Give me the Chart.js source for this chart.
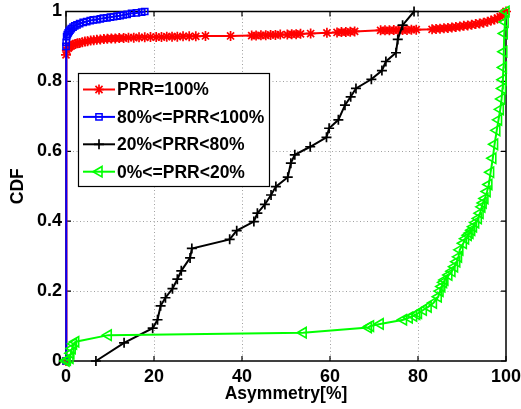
<!DOCTYPE html>
<html>
<head>
<meta charset="utf-8">
<script src="https://cdn.jsdelivr.net/npm/chart.js@4"></script>
<style>
  html, body { margin: 0; padding: 0; background: #fff; }
  #c { display: block; }
</style>
</head>
<body>
<canvas id="c" width="521" height="409"></canvas>
<script>
// Asymmetry CDF per PRR class
const xTickLabels = ['0', '20', '40', '60', '80', '100'];
const yTickLabels = ['0', '0.2', '0.4', '0.6', '0.8', '1'];
const seriesNames = ['PRR=100%', '80%<=PRR<100%', '20%<PRR<80%', '0%<=PRR<20%'];

const redX = [0, 0, 0.2, 0.5, 0.8, 1.2, 1.6, 2.1, 2.6, 3.1, 3.7, 4.3, 4.9, 5.6, 6.3, 7.0, 7.8, 8.6, 9.4,
  10.3, 11.2, 12.1, 13.1, 14.2, 15.4, 16.6, 17.9, 19.2, 20.5, 21.7, 22.9, 24.1, 25.3, 26.6, 28.0, 29.5,
  31.7, 37.4, 42.2, 43.2, 44.3, 45.4, 46.5, 47.6, 48.7, 50.3, 51.3, 52.3, 53.3, 55.6, 59.3, 61.6, 62.6,
  63.6, 64.6, 65.6, 71.5, 72.5, 73.5, 74.5, 75.5, 76.5, 77.5, 78.5, 79.6, 83.2, 84.1, 85.0, 85.9, 86.8,
  87.7, 88.6, 89.5, 90.4, 91.3, 92.2, 93.1, 94.0, 94.9, 95.8, 96.6, 97.4, 98.1, 98.7, 99.2, 99.6, 100];
const redY = [0, 0.876, 0.889, 0.895, 0.899, 0.902, 0.905, 0.907, 0.909, 0.910, 0.912, 0.914, 0.915, 0.917,
  0.918, 0.919, 0.920, 0.921, 0.922, 0.923, 0.923, 0.924, 0.924, 0.925, 0.925, 0.926, 0.926, 0.927, 0.927,
  0.927, 0.928, 0.928, 0.928, 0.929, 0.929, 0.929, 0.930, 0.930, 0.931, 0.931, 0.932, 0.932, 0.933, 0.933,
  0.934, 0.934, 0.935, 0.935, 0.936, 0.937, 0.939, 0.940, 0.941, 0.941, 0.942, 0.943, 0.946, 0.946, 0.946,
  0.947, 0.947, 0.947, 0.947, 0.948, 0.948, 0.949, 0.950, 0.951, 0.952, 0.953, 0.954, 0.956, 0.957, 0.959,
  0.960, 0.962, 0.964, 0.966, 0.968, 0.971, 0.974, 0.977, 0.981, 0.985, 0.990, 0.995, 1.0];

const blueX = [0, 0, 0.05, 0.15, 0.3, 0.5, 0.7, 0.9, 1.2, 1.6, 2.0, 2.5, 3.1, 3.9, 4.7, 5.5, 6.2, 7.0,
  7.8, 8.5, 9.3, 10.1, 10.8, 11.6, 12.3, 13.0, 13.9, 14.9, 16.0, 17.2, 17.9];
const blueY = [0, 0.900, 0.912, 0.928, 0.934, 0.939, 0.943, 0.947, 0.951, 0.955, 0.959, 0.962, 0.965,
  0.969, 0.971, 0.974, 0.976, 0.977, 0.979, 0.981, 0.982, 0.984, 0.985, 0.987, 0.988, 0.990, 0.992,
  0.995, 0.996, 0.998, 1.0];

const blackX = [6.8, 13.2, 19.7, 20.8, 21.5, 22.6, 24.2, 25.3, 26.2, 28.2, 28.6, 37.2, 38.8, 42.7, 43.5,
  45.2, 46.6, 47.7, 50.4, 51.1, 52.0, 55.5, 59.2, 59.8, 61.9, 63.4, 64.7, 65.9, 69.4, 71.8, 72.7, 75.0,
  75.4, 76.5, 79.1];
const blackY = [0, 0.052, 0.094, 0.118, 0.158, 0.181, 0.207, 0.234, 0.258, 0.295, 0.322, 0.348, 0.373,
  0.399, 0.423, 0.448, 0.475, 0.499, 0.526, 0.566, 0.590, 0.613, 0.640, 0.666, 0.690, 0.732, 0.756, 0.780,
  0.806, 0.831, 0.857, 0.882, 0.920, 0.961, 1.0];

const greenX = [0, 0.3, 0.9, 1.1, 1.4, 1.7, 2.2, 9.6, 53.9, 68.7, 69.2, 71.4, 76.7, 78.0, 79.0, 79.7, 80.1,
  81.2, 82.3, 83.5, 84.6, 85.0, 85.4, 85.8, 86.1, 87.0, 87.7, 88.3, 88.8, 89.2, 89.5, 90.3, 90.8, 91.4,
  91.8, 92.2, 92.6, 93.1, 93.7, 94.1, 94.5, 94.8, 95.2, 95.7, 96.1, 96.5, 97.0, 97.4, 97.9, 98.3, 98.7,
  99.0, 99.2, 99.3, 99.4, 99.5, 99.6, 99.8, 100];
const greenY = [0, 0.003, 0.008, 0.022, 0.036, 0.049, 0.055, 0.074, 0.081, 0.096, 0.100, 0.106, 0.118,
  0.124, 0.129, 0.134, 0.137, 0.146, 0.155, 0.166, 0.184, 0.200, 0.213, 0.225, 0.232, 0.246, 0.257, 0.270,
  0.284, 0.298, 0.318, 0.337, 0.350, 0.360, 0.366, 0.374, 0.384, 0.396, 0.408, 0.423, 0.441, 0.452, 0.465,
  0.485, 0.505, 0.540, 0.580, 0.620, 0.660, 0.690, 0.720, 0.750, 0.780, 0.805, 0.840, 0.885, 0.937,
  0.970, 1.0];

const toPoints = (xs, ys) => xs.map((x, i) => ({ x: x, y: ys[i] }));

const FONT = '"Liberation Sans", Arial, Helvetica, sans-serif';

const seriesStyle = [
  { color: '#ff0000', pointStyle: 'star', radius: 5, rotation: 0, markerWidth: 1.7 },
  { color: '#0000ff', pointStyle: 'rect', radius: 4.4, rotation: 0, markerWidth: 1.5 },
  { color: '#000000', pointStyle: 'cross', radius: 5, rotation: 0, markerWidth: 1.7 },
  { color: '#00ff00', pointStyle: 'triangle', radius: 6, rotation: -90, markerWidth: 1.6 }
];

const seriesData = [
  toPoints(redX, redY),
  toPoints(blueX, blueY),
  toPoints(blackX, blackY),
  toPoints(greenX, greenY)
];

const datasets = seriesData.map((pts, i) => ({
  label: seriesNames[i],
  data: pts,
  showLine: true,
  tension: 0,
  borderColor: seriesStyle[i].color,
  borderWidth: 2,
  pointStyle: seriesStyle[i].pointStyle,
  pointRadius: seriesStyle[i].radius,
  pointHoverRadius: seriesStyle[i].radius,
  pointRotation: seriesStyle[i].rotation,
  pointBorderColor: seriesStyle[i].color,
  pointBackgroundColor: 'rgba(0,0,0,0)',
  pointBorderWidth: seriesStyle[i].markerWidth,
  clip: false,
  // later series are painted over earlier ones
  order: seriesData.length - i
}));

// dotted grid, boxed axes with inward ticks
const framePlugin = {
  id: 'frame',
  beforeDatasetsDraw(chart) {
    const { ctx, chartArea: a, scales } = chart;
    const xs = scales.x, ys = scales.y;
    ctx.save();
    ctx.strokeStyle = '#a0a0a0';
    ctx.lineWidth = 1;
    ctx.setLineDash([1, 2.5]);
    xs.ticks.forEach(t => {
      if (t.value <= xs.min || t.value >= xs.max) return;
      const px = Math.round(xs.getPixelForValue(t.value)) + 0.5;
      ctx.beginPath(); ctx.moveTo(px, a.top); ctx.lineTo(px, a.bottom); ctx.stroke();
    });
    ys.ticks.forEach(t => {
      if (t.value <= ys.min || t.value >= ys.max) return;
      const py = Math.round(ys.getPixelForValue(t.value)) + 0.5;
      ctx.beginPath(); ctx.moveTo(a.left, py); ctx.lineTo(a.right, py); ctx.stroke();
    });
    ctx.setLineDash([]);
    ctx.strokeStyle = '#000';
    ctx.lineWidth = 1.5;
    ctx.strokeRect(a.left, a.top, a.right - a.left, a.bottom - a.top);
    const tl = 5;
    ctx.lineWidth = 1.2;
    xs.ticks.forEach(t => {
      const px = xs.getPixelForValue(t.value);
      ctx.beginPath();
      ctx.moveTo(px, a.bottom); ctx.lineTo(px, a.bottom - tl);
      ctx.moveTo(px, a.top); ctx.lineTo(px, a.top + tl);
      ctx.stroke();
    });
    ys.ticks.forEach(t => {
      const py = ys.getPixelForValue(t.value);
      ctx.beginPath();
      ctx.moveTo(a.left, py); ctx.lineTo(a.left + tl, py);
      ctx.moveTo(a.right, py); ctx.lineTo(a.right - tl, py);
      ctx.stroke();
    });
    ctx.restore();
  }
};

function drawMarker(ctx, style, x, y) {
  if (Chart.helpers && Chart.helpers.drawPoint) {
    Chart.helpers.drawPoint(ctx, {
      pointStyle: style.pointStyle, radius: style.radius, rotation: style.rotation,
      borderWidth: style.markerWidth
    }, x, y);
  }
}

// boxed legend inside the plot area
const legendPlugin = {
  id: 'boxLegend',
  afterDraw(chart) {
    const { ctx } = chart;
    const left = 78, top = 73, width = 191, height = 113;
    ctx.save();
    ctx.fillStyle = '#fff';
    ctx.fillRect(left, top, width, height);
    ctx.strokeStyle = '#000';
    ctx.lineWidth = 1.2;
    ctx.strokeRect(left + 0.5, top + 0.5, width, height);
    ctx.font = 'bold 17.5px ' + FONT;
    ctx.textBaseline = 'middle';
    ctx.textAlign = 'left';
    seriesNames.forEach((name, i) => {
      const cy = top + 16.5 + i * 27.4;
      const st = seriesStyle[i];
      ctx.strokeStyle = st.color;
      ctx.lineWidth = 2;
      ctx.beginPath(); ctx.moveTo(left + 5, cy); ctx.lineTo(left + 37, cy); ctx.stroke();
      ctx.strokeStyle = st.color;
      ctx.fillStyle = 'rgba(0,0,0,0)';
      ctx.lineWidth = st.markerWidth;
      drawMarker(ctx, st, left + 21, cy);
      ctx.fillStyle = '#000';
      ctx.fillText(name, left + 39, cy + 1);
    });
    ctx.restore();
  }
};

new Chart(document.getElementById('c'), {
  type: 'scatter',
  data: { datasets: datasets },
  options: {
    responsive: false,
    animation: false,
    events: [],
    layout: { padding: { left: 0, top: 11.5, right: 15, bottom: 0 } },
    plugins: { legend: { display: false }, tooltip: { enabled: false } },
    scales: {
      x: {
        type: 'linear', min: 0, max: 100,
        grid: { display: false, drawTicks: false },
        border: { display: false },
        ticks: {
          stepSize: 20, padding: 5, maxRotation: 0, color: '#000',
          font: { family: FONT, size: 18, weight: 'bold' },
          callback: (v, i) => xTickLabels[i]
        },
        title: {
          display: true, text: 'Asymmetry[%]', color: '#000',
          font: { family: FONT, size: 17.5, weight: 'bold' },
          padding: { top: 0, bottom: 4 }
        },
        afterFit: s => { s.height = 48; s.paddingLeft = 0; s.paddingRight = 0; }
      },
      y: {
        type: 'linear', min: 0, max: 1,
        grid: { display: false, drawTicks: false },
        border: { display: false },
        ticks: {
          stepSize: 0.2, padding: 4, color: '#000',
          font: { family: FONT, size: 18, weight: 'bold' },
          callback: (v, i) => yTickLabels[i]
        },
        title: {
          display: true, text: 'CDF', color: '#000',
          font: { family: FONT, size: 17.5, weight: 'bold' },
          padding: { top: 8, bottom: 0 }
        },
        afterFit: s => { s.width = 66; s.paddingTop = 0; s.paddingBottom = 0; }
      }
    }
  },
  plugins: [framePlugin, legendPlugin]
});
</script>
</body>
</html>
